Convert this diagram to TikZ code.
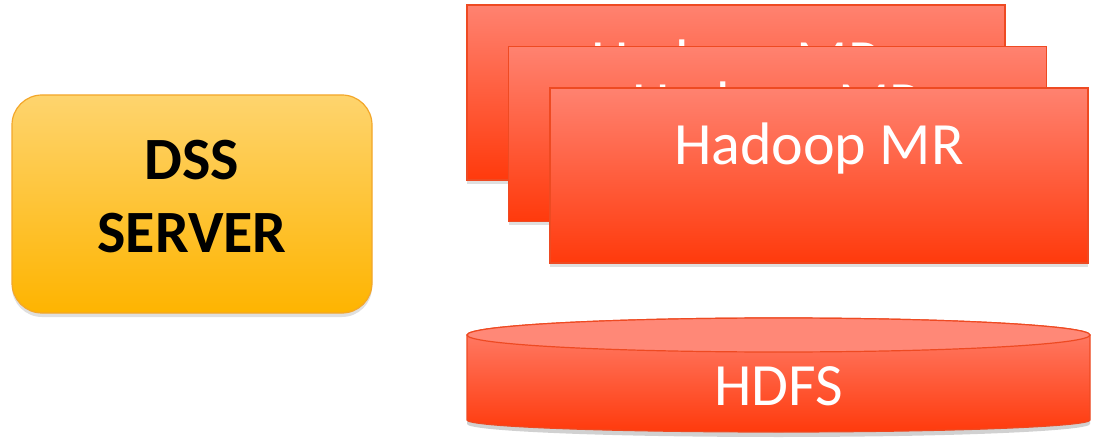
\documentclass[tikz,border=0pt]{standalone}
\usepackage{fontspec}
\setmainfont{Carlito}
\usetikzlibrary{shadows}
\definecolor{dsstop}{HTML}{FED46E}
\definecolor{dssbot}{HTML}{FEB400}
\definecolor{dssline}{HTML}{F3A72A}
\definecolor{redtop}{HTML}{FF8270}
\definecolor{redbot}{HTML}{FF3A0C}
\definecolor{redline}{HTML}{EE4A22}
\tikzset{
  dssbox/.style={draw=dssline, line width=1.2pt, rounded corners=30pt,
    top color=dsstop, bottom color=dssbot, minimum width=360pt, minimum height=218pt,
    drop shadow={shadow xshift=0pt, shadow yshift=-4pt, opacity=0.25}},
  mrbox/.style={draw=redline, line width=1.2pt, top color=redtop, bottom color=redbot,
    minimum width=538pt, minimum height=175pt,
    drop shadow={shadow xshift=0pt, shadow yshift=-4pt, opacity=0.25}},
  whitetext/.style={text=white, font=\fontsize{60}{72}\selectfont, inner sep=0pt, anchor=base},
  dsstext/.style={font=\bfseries\fontsize{60}{73}\selectfont, align=center, inner sep=0pt}
}
\begin{document}
\begin{tikzpicture}[x=1pt,y=-1pt]
\useasboundingbox (0,0) rectangle (1100,446);
% DSS server
\node[dssbox] (dss) at (192,204) {};
\node[dsstext, anchor=base] (dssa) at (192,180) {DSS};
\node[dsstext, anchor=base] (dssb) at (192,253) {SERVER};
% Hadoop MR stack
\node[mrbox] (mr1) at (736,92.5) {};
\node[whitetext] (mr1t) at (736,82) {Hadoop MR};
\node[mrbox] (mr2) at (777.5,134) {};
\node[whitetext] (mr2t) at (777.5,124) {Hadoop MR};
\node[mrbox] (mr3) at (819,175.5) {};
\node[whitetext] (mr3t) at (819,165) {Hadoop MR};
% HDFS cylinder
\fill[black, opacity=0.18] (467,340) -- (467,424) arc[start angle=180, end angle=0, x radius=311.5, y radius=13] -- (1090,340) -- cycle;
\draw[redline, line width=1.2pt, top color=redtop, bottom color=redbot]
  (467,335) -- (467,420) arc[start angle=180, end angle=0, x radius=311.5, y radius=12] -- (1090,335)
  arc[start angle=0, end angle=-180, x radius=311.5, y radius=17] -- cycle;
\draw[redline, line width=1.2pt, fill=redtop!95!white]
  (778.5,335) ellipse[x radius=311.5, y radius=17];
\node[whitetext] (hdfs) at (778.5,405) {HDFS};
\end{tikzpicture}
\end{document}
